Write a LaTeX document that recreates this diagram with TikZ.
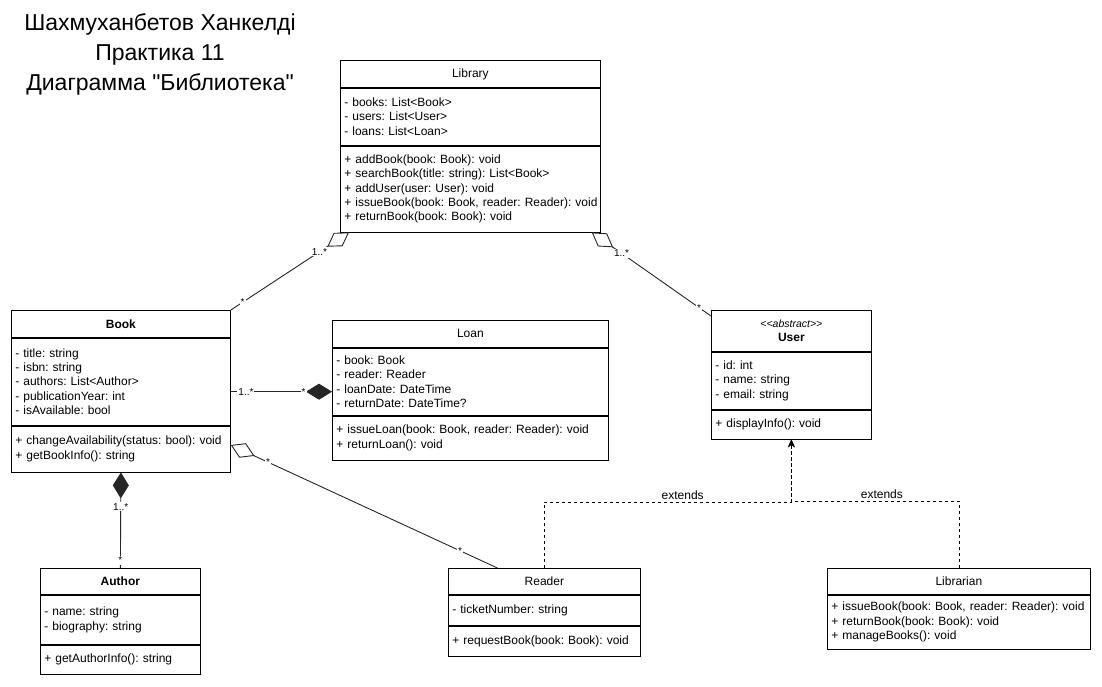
\documentclass[tikz,border=0pt]{standalone}
\usepackage{fontspec}
\setmainfont{Liberation Sans}
\newfontfamily\plainfont{Liberation Sans}
\frenchspacing
\usetikzlibrary{arrows.meta,positioning,calc}
\tikzset{
    umlHead/.style={rectangle, draw=black, fill=white, line width=0.8pt, anchor=north west, inner sep=0pt, align=center, font=\fontsize{12}{14.4}\selectfont},
    umlBody/.style={rectangle, draw=black, fill=white, line width=0.8pt, anchor=north west, inner xsep=4pt, inner ysep=0pt, align=left, font=\fontsize{12}{14.4}\selectfont},
    mult/.style={fill=white, inner sep=1pt, font=\fontsize{10}{12}\selectfont},
    assoc/.style={line width=0.9pt, draw=black!85},
    aggr/.style={assoc, -{Diamond[open, length=26pt, width=16pt]}},
    comp/.style={assoc, -{Diamond[length=26pt, width=16pt]}},
    extLine/.style={line width=0.8pt, dash pattern=on 3pt off 3pt, -{Stealth[length=8pt, width=7pt]}},
    extLabel/.style={above, inner sep=2pt, font=\fontsize{12}{14.4}\selectfont}
}

\begin{document}
\begin{tikzpicture}[x=1pt, y=-1pt]
\useasboundingbox (0,0) rectangle (1102,686);

% Title
\node[align=center, font=\plainfont\fontsize{23}{30}\selectfont] (title) at (160,54)
  {Шахмуханбетов Ханкелді\\Практика 11\\Диаграмма "Библиотека"};

% ----------------------------
% Classes
% ----------------------------
\node[umlHead, minimum width=260pt, minimum height=27pt] (libHead) at (340,60) {Library};
\node[umlBody, text width=252pt, minimum height=57pt] (libAttr) at (libHead.south west)
  {- books: List<Book>\\- users: List<User>\\- loans: List<Loan>};
\node[umlBody, text width=252pt, minimum height=86pt] (libOps) at (libAttr.south west)
  {+ addBook(book: Book): void\\+ searchBook(title: string): List<Book>\\+ addUser(user: User): void\\\mbox{+ issueBook(book: Book, reader: Reader): void}\\+ returnBook(book: Book): void};

\node[umlHead, minimum width=219pt, minimum height=27pt, font=\fontsize{12}{14.4}\selectfont\bfseries] (bookHead) at (11,310) {Book};
\node[umlBody, text width=211pt, minimum height=87pt] (bookAttr) at (bookHead.south west)
  {- title: string\\- isbn: string\\- authors: List<Author>\\- publicationYear: int\\- isAvailable: bool};
\node[umlBody, text width=211pt, minimum height=46pt] (bookOps) at (bookAttr.south west)
  {+ changeAvailability(status: bool): void\\+ getBookInfo(): string};

\node[umlHead, minimum width=276pt, minimum height=27pt] (loanHead) at (332,320) {Loan};
\node[umlBody, text width=268pt, minimum height=67pt] (loanAttr) at (loanHead.south west)
  {- book: Book\\- reader: Reader\\- loanDate: DateTime\\- returnDate: DateTime?};
\node[umlBody, text width=268pt, minimum height=44pt] (loanOps) at (loanAttr.south west)
  {+ issueLoan(book: Book, reader: Reader): void\\+ returnLoan(): void};

\node[umlHead, minimum width=160pt, minimum height=41pt] (userHead) at (711,310)
  {{\plainfont\fontsize{10.5}{14}\selectfont\itshape <<abstract>>}\\\textbf{User}};
\node[umlBody, text width=152pt, minimum height=57pt] (userAttr) at (userHead.south west)
  {- id: int\\- name: string\\- email: string};
\node[umlBody, text width=152pt, minimum height=29pt] (userOps) at (userAttr.south west)
  {+ displayInfo(): void};

\node[umlHead, minimum width=160pt, minimum height=26pt, font=\fontsize{12}{14.4}\selectfont\bfseries] (authorHead) at (40,568) {Author};
\node[umlBody, text width=152pt, minimum height=49pt] (authorAttr) at (authorHead.south west)
  {- name: string\\- biography: string};
\node[umlBody, text width=152pt, minimum height=29pt] (authorOps) at (authorAttr.south west)
  {+ getAuthorInfo(): string};

\node[umlHead, minimum width=192pt, minimum height=26pt] (readerHead) at (448,568) {Reader};
\node[umlBody, text width=184pt, minimum height=30pt] (readerAttr) at (readerHead.south west)
  {- ticketNumber: string};
\node[umlBody, text width=184pt, minimum height=30pt] (readerOps) at (readerAttr.south west)
  {+ requestBook(book: Book): void};

\node[umlHead, minimum width=263pt, minimum height=26pt] (librarianHead) at (827,568) {Librarian};
\node[umlBody, text width=255pt, minimum height=54pt] (librarianOps) at (librarianHead.south west)
  {+ issueBook(book: Book, reader: Reader): void\\+ returnBook(book: Book): void\\+ manageBooks(): void};

% ----------------------------
% Associations
% ----------------------------
\draw[aggr] (bookHead.north east) -- ([xshift=9pt]libOps.south west)
  node[mult, pos=0.1] {*} node[mult, pos=0.75] {1..*};
\draw[aggr] ([yshift=-6pt]userHead.north west) -- ([xshift=-9pt]libOps.south east)
  node[mult, pos=0.1] {*} node[mult, pos=0.75] {1..*};

\draw[comp] ([yshift=-10pt]bookAttr.east) -- ([yshift=-10pt]loanAttr.west)
  node[mult, pos=0.15] {1..*} node[mult, pos=0.72] {*};
\draw[comp] (authorHead.north) -- (bookOps.south)
  node[mult, pos=0.08] {*} node[mult, pos=0.64] {1..*};
\draw[aggr] ([xshift=-47pt]readerHead.north) -- ([yshift=4pt]bookOps.east)
  node[mult, pos=0.14] {*} node[mult, pos=0.86] {*};

% ----------------------------
% Inheritance
% ----------------------------
\foreach \sub/\up/\p in {readerHead/66/0.28, librarianHead/67/0.23} {
  \draw[extLine] (\sub.north) -- ++(0,-\up) -| (userOps.south)
    node[extLabel, pos=\p] {extends};
}

\end{tikzpicture}
\end{document}
